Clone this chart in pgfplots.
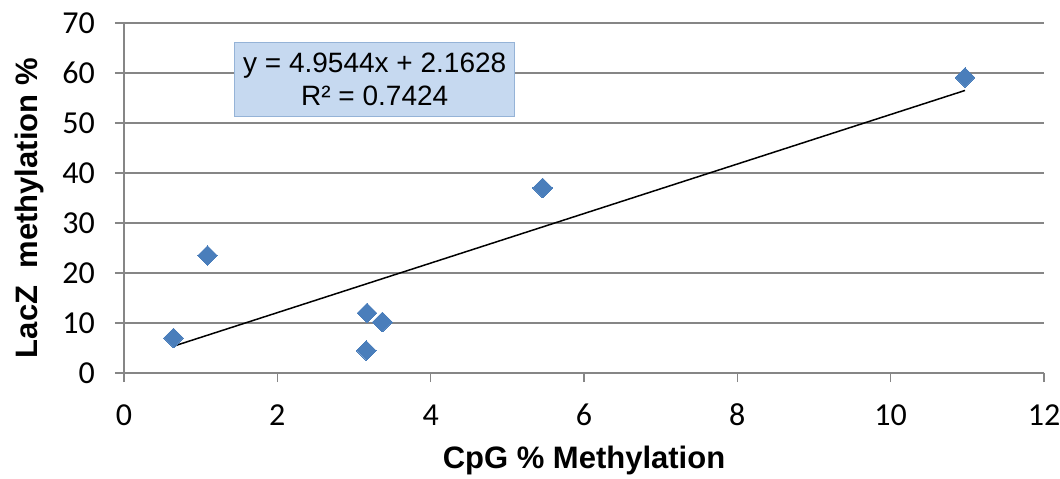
\documentclass[border=0pt]{standalone}
\usepackage{pgfplots}
\pgfplotsset{compat=1.18}
\usepackage{fontspec}
\setmainfont{Liberation Sans}
\newfontfamily\carlito{Carlito}
\definecolor{gridgray}{RGB}{134,134,134}
\definecolor{markblue}{RGB}{74,126,187}
\definecolor{boxfill}{RGB}{198,217,240}
\definecolor{boxdraw}{RGB}{149,179,215}
\begin{document}
\begin{tikzpicture}
\path[use as bounding box] (-124pt,-106pt) rectangle (936pt,373pt);
\begin{axis}[
  at={(0pt,0pt)}, anchor=south west,
  scale only axis,
  width=920pt, height=350pt,
  xmin=0, xmax=12, ymin=0, ymax=70,
  xtick={0,2,...,12}, ytick={0,10,...,70},
  axis x line=bottom, axis y line=left,
  axis line style={-, draw=gridgray, line width=1.6pt},
  ymajorgrids,
  major grid style={draw=gridgray, line width=1.6pt},
  tick align=outside,
  major tick length=9pt,
  tick style={draw=gridgray, line width=1.6pt},
  /pgf/number format/assume math mode=true,
  ticklabel style={font=\carlito\fontsize{32}{38}\selectfont, text=black, inner sep=0pt},
  xticklabel style={anchor=center, yshift=-33pt},
  yticklabel style={anchor=east, xshift=-20pt},
  xlabel={\textbf{CpG \% Methylation}},
  ylabel={\textbf{LacZ\ \ methylation \%}},
  every axis x label/.style={at={(axis description cs:0.5,-0.249)}, anchor=center, font=\fontsize{31}{36}\selectfont},
  every axis y label/.style={at={(axis description cs:-0.103,0.471)}, anchor=center, rotate=90, font=\fontsize{31}{36}\selectfont},
  clip=false,
]
\addplot[black, line width=1.5pt, forget plot] coordinates {(0.645,5.358) (10.97,56.51)};
\addplot[only marks, mark=square*, mark size=7pt, mark options={rotate=45, fill=markblue, draw=markblue, line width=0pt}]
  coordinates {
  (0.645,7.0)
  (1.09,23.5)
  (3.17,12.0)
  (3.37,10.2)
  (3.16,4.5)
  (5.46,37.0)
  (10.97,59.1)
  };
\node[draw=boxdraw, fill=boxfill, line width=1.2pt, align=center, minimum width=280pt, minimum height=74pt, inner sep=2pt,
  font=\fontsize{28}{33}\selectfont] at (axis cs:3.27,58.7) {y = 4.9544x + 2.1628\\R² = 0.7424};
\end{axis}
\end{tikzpicture}
\end{document}
